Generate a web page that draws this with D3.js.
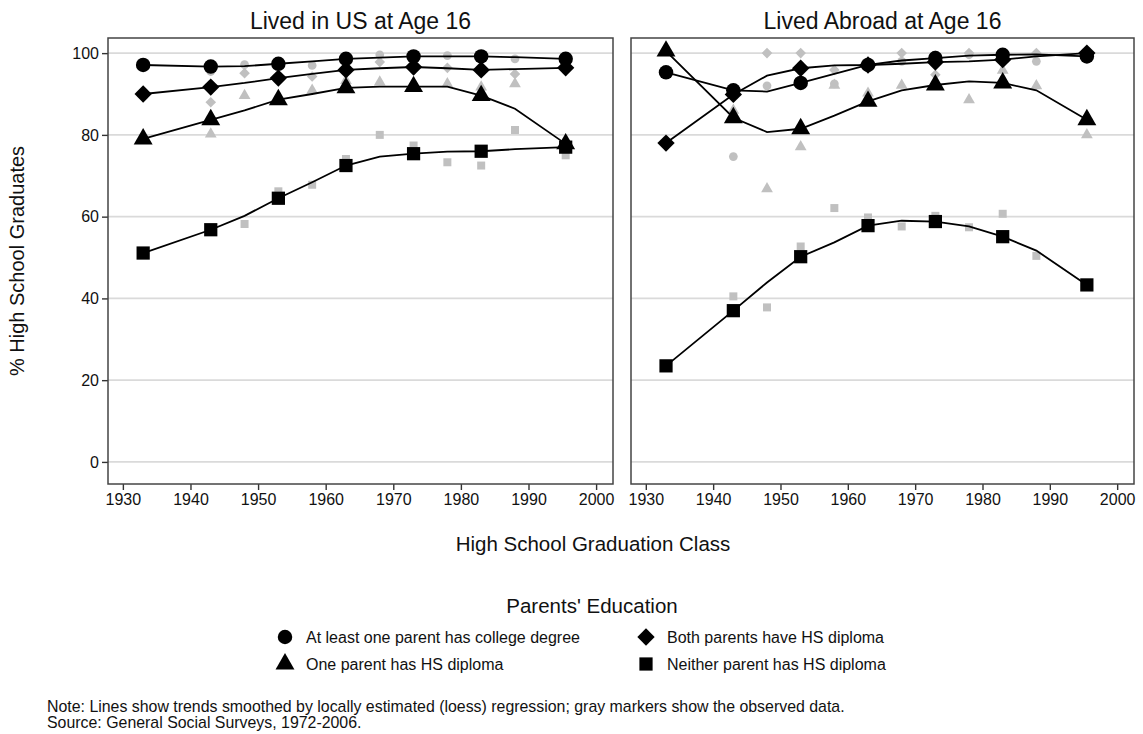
<!DOCTYPE html>
<html>
<head>
<meta charset="utf-8">
<script src="https://cdn.jsdelivr.net/npm/d3@7"></script>
<style>
  body { margin: 0; background: #fff; }
  text { font-family: "Liberation Sans", Arial, Helvetica, sans-serif; fill: #111; }
</style>
</head>
<body>
<script>
// cohorts (graduation class) and the ones that carry a black marker
var years = [1933, 1943, 1948, 1953, 1958, 1963, 1968, 1973, 1978, 1983, 1988, 1995.5];
var markerYears = [1933, 1943, 1953, 1963, 1973, 1983, 1995.5];

var xTicks = [1930, 1940, 1950, 1960, 1970, 1980, 1990, 2000];
var yTicks = [0, 20, 40, 60, 80, 100];

var panelTitles = ["Lived in US at Age 16", "Lived Abroad at Age 16"];
var groupNames = ["At least one parent has college degree", "One parent has HS diploma",
                  "Both parents have HS diploma", "Neither parent has HS diploma"];
var groupSymbols = ["circle", "triangle", "diamond", "square"];

// loess fits, lived in US
var usCollegeFit = [97.1, 96.7, 96.8, 97.4, 98.0, 98.6, 98.9, 99.2, 99.2, 99.2, 99.0, 98.6];
var usOneFit     = [79.0, 83.7, 86.0, 88.6, 90.0, 91.5, 91.8, 91.8, 91.8, 89.6, 86.4, 77.8];
var usBothFit    = [90.0, 91.7, 92.7, 93.9, 94.9, 95.9, 96.3, 96.6, 96.3, 95.9, 96.1, 96.4];
var usNeitherFit = [51.1, 56.8, 60.2, 64.5, 68.4, 72.5, 74.7, 75.4, 75.9, 76.0, 76.5, 77.0];

// observed, lived in US
var usCollegeObs = [97.0, 95.5, 97.2, 97.6, 97.0, 98.8, 99.6, 99.4, 99.4, 99.0, 98.6, 98.4];
var usOneObs     = [79.2, 80.2, 89.6, 89.2, 90.9, 93.3, 92.9, 92.5, 92.5, 91.7, 92.5, 78.2];
var usBothObs    = [90.2, 88.0, 95.1, 94.1, 94.3, 95.8, 97.8, 97.0, 96.4, 95.8, 94.9, 96.6];
var usNeitherObs = [51.0, 57.2, 58.2, 66.2, 67.8, 74.1, 80.0, 77.4, 73.3, 72.5, 81.2, 75.0];

// loess fits, lived abroad
var abCollegeFit = [95.3, 90.9, 90.6, 92.7, 94.9, 97.1, 98.2, 98.8, 99.4, 99.6, 99.7, 99.2];
var abOneFit     = [100.5, 84.2, 80.7, 81.5, 84.7, 88.2, 90.9, 92.2, 93.1, 92.7, 90.9, 83.7];
var abBothFit    = [78.0, 89.9, 94.5, 96.3, 97.0, 97.1, 97.4, 97.8, 98.0, 98.4, 99.2, 100.0];
var abNeitherFit = [23.5, 37.0, 43.9, 50.2, 53.7, 57.8, 59.0, 58.8, 57.6, 55.1, 51.7, 43.3];

// observed, lived abroad
var abCollegeObs = [95.5, 74.7, 92.0, 93.0, 92.5, 97.0, 98.0, 99.6, 99.6, 99.8, 98.0, 99.4];
var abOneObs     = [100.3, 86.0, 66.8, 77.1, 92.1, 90.2, 92.1, 92.8, 88.6, 95.8, 92.0, 80.0];
var abBothObs    = [78.2, 90.5, 100.0, 100.0, 95.9, 97.3, 100.0, 94.7, 100.0, 98.6, 100.0, 100.0];
var abNeitherObs = [23.6, 40.5, 37.8, 52.7, 62.1, 59.8, 57.6, 60.2, 57.4, 60.7, 50.4, 43.0];

var panels = [
    { title: panelTitles[0], fits: [usCollegeFit, usOneFit, usBothFit, usNeitherFit],
      obs: [usCollegeObs, usOneObs, usBothObs, usNeitherObs], x0: 108, x1: 613 },
    { title: panelTitles[1], fits: [abCollegeFit, abOneFit, abBothFit, abNeitherFit],
      obs: [abCollegeObs, abOneObs, abBothObs, abNeitherObs], x0: 631, x1: 1134 }
];

var width = 1143;
var height = 734;
var plotTop = 38, plotBottom = 484;

var svg = d3.select("body")
    .append("svg")
        .attr("width", width)
        .attr("height", height)
        .style("background-color", "white");

var yScale = d3.scaleLinear()
    .domain([-5.4, 103.7])
    .range([plotBottom, plotTop]);

// stata style markers; diamond is a square turned 45 degrees
let symbolPath = (name, big) => {
    if (name == "circle") return d3.symbol(d3.symbolCircle, big ? 165 : 60)();
    if (name == "triangle") return d3.symbol(d3.symbolTriangle, big ? 155 : 60)();
    if (name == "square") return d3.symbol(d3.symbolSquare, big ? 175 : 64)();
    return d3.symbol(d3.symbolSquare, big ? 150 : 56)();
}
let symbolRotate = name => name == "diamond" ? " rotate(45)" : "";

panels.forEach((p, pi) => {
    var xScale = d3.scaleLinear()
        .domain([1927.8, 2002.5])
        .range([p.x0, p.x1]);

    var g = svg.append("g");

    // grid
    g.selectAll(".grid")
        .data(yTicks)
        .enter()
            .append("line")
            .attr("x1", p.x0)
            .attr("x2", p.x1)
            .attr("y1", d => yScale(d))
            .attr("y2", d => yScale(d))
            .attr("stroke", "#dadada")
            .attr("stroke-width", 1.6);

    // x axis
    var xAxis = d3.axisBottom(xScale)
        .tickValues(xTicks)
        .tickFormat(d3.format("d"))
        .tickSize(6)
        .tickPadding(4);
    var xg = g.append("g")
        .attr("transform", "translate(0," + plotBottom + ")")
        .call(xAxis);
    xg.select(".domain").remove();
    xg.selectAll("line").attr("stroke", "#333").attr("stroke-width", 1.4);
    xg.selectAll("text").style("font-size", "16px").style("font-family", "Liberation Sans, Arial, sans-serif").attr("fill", "#111");

    if (pi == 0) {
        var yAxis = d3.axisLeft(yScale)
            .tickValues(yTicks)
            .tickSize(6)
            .tickPadding(3);
        var yg = g.append("g")
            .attr("transform", "translate(" + p.x0 + ",0)")
            .call(yAxis);
        yg.select(".domain").remove();
        yg.selectAll("line").attr("stroke", "#333").attr("stroke-width", 1.4);
        yg.selectAll("text").style("font-size", "16px").style("font-family", "Liberation Sans, Arial, sans-serif").attr("fill", "#111");
    }

    // frame
    g.append("rect")
        .attr("x", p.x0)
        .attr("y", plotTop)
        .attr("width", p.x1 - p.x0)
        .attr("height", plotBottom - plotTop)
        .attr("fill", "none")
        .attr("stroke", "#444")
        .attr("stroke-width", 1.5);

    g.append("text")
        .attr("x", (p.x0 + p.x1) / 2)
        .attr("y", 29)
        .attr("text-anchor", "middle")
        .style("font-size", "23px")
        .text(p.title);

    // gray observed markers
    p.obs.forEach((vals, gi) => {
        g.selectAll(".obs" + gi)
            .data(vals)
            .enter()
                .append("path")
                .attr("d", symbolPath(groupSymbols[gi], false))
                .attr("transform", (d, i) => "translate(" + xScale(years[i]) + "," + yScale(d) + ")" + symbolRotate(groupSymbols[gi]))
                .attr("fill", "#c0c0c0");
    });

    // loess lines
    var line = d3.line()
        .x((d, i) => xScale(years[i]))
        .y(d => yScale(d));
    p.fits.forEach(vals => {
        g.append("path")
            .attr("d", line(vals))
            .attr("fill", "none")
            .attr("stroke", "#000")
            .attr("stroke-width", 1.8);
    });

    // black markers on the fitted line
    p.fits.forEach((vals, gi) => {
        g.selectAll(".fit" + gi)
            .data(markerYears)
            .enter()
                .append("path")
                .attr("d", symbolPath(groupSymbols[gi], true))
                .attr("transform", d => "translate(" + xScale(d) + "," + yScale(vals[years.indexOf(d)]) + ")" + symbolRotate(groupSymbols[gi]))
                .attr("fill", "#000");
    });
});

// axis titles
svg.append("text")
    .attr("transform", "translate(24,261) rotate(-90)")
    .attr("text-anchor", "middle")
    .style("font-size", "20px")
    .text("% High School Graduates");

svg.append("text")
    .attr("x", 593)
    .attr("y", 551)
    .attr("text-anchor", "middle")
    .style("font-size", "20.5px")
    .text("High School Graduation Class");

// legend
svg.append("text")
    .attr("x", 592)
    .attr("y", 613)
    .attr("text-anchor", "middle")
    .style("font-size", "20.5px")
    .text("Parents' Education");

var legendPos = [[285, 637], [285, 664], [646, 637], [646, 664]];
var legend = svg.selectAll(".legend")
    .data(groupNames)
    .enter()
        .append("g")
        .attr("transform", (d, i) => "translate(" + legendPos[i][0] + "," + legendPos[i][1] + ")");

legend.append("path")
    .attr("d", (d, i) => symbolPath(groupSymbols[i], true))
    .attr("transform", (d, i) => symbolRotate(groupSymbols[i]))
    .attr("fill", "#000");

legend.append("text")
    .attr("x", 21)
    .attr("y", 6)
    .style("font-size", "16px")
    .text(d => d);

// notes
svg.append("text")
    .attr("x", 47)
    .attr("y", 712)
    .style("font-size", "15.9px")
    .text("Note: Lines show trends smoothed by locally estimated (loess) regression; gray markers show the observed data.");

svg.append("text")
    .attr("x", 47)
    .attr("y", 728)
    .style("font-size", "15.9px")
    .text("Source: General Social Surveys, 1972-2006.");
</script>
</body>
</html>
